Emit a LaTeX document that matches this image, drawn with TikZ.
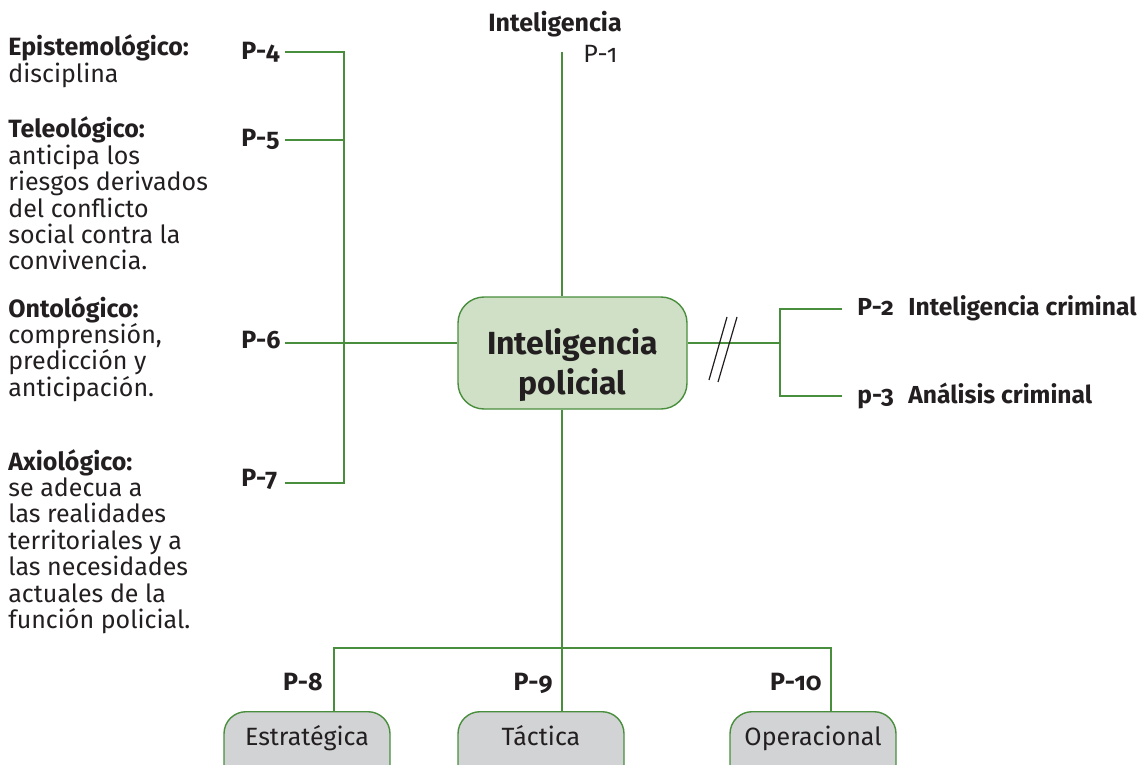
\documentclass[tikz,border=0pt]{standalone}
\usepackage{fontspec}
\setmainfont{Fira Sans}[Numbers=OldStyle]
\usetikzlibrary{positioning}

\definecolor{lgreen}{RGB}{72,142,60}
\definecolor{boxgreen}{RGB}{208,224,199}
\definecolor{boxgrey}{RGB}{210,211,213}
\definecolor{ink}{RGB}{35,31,32}

\begin{document}
\begin{tikzpicture}[x=0.5pt, y=-0.5pt,
    every node/.style={inner sep=0pt, text=ink, font=\fontsize{12.5}{13.2}\selectfont},
    conn/.style={draw=lgreen, line width=0.7pt},
    slash/.style={draw=ink, line width=0.6pt},
    plabel/.style={font=\fontsize{12.5}{13.2}\selectfont\bfseries},
    rlabel/.style={font=\fontsize{12.3}{14}\selectfont\bfseries, anchor=base west},
    note/.style={align=left, anchor=base west},
    hub/.style={draw=lgreen, fill=boxgreen, line width=0.7pt, rounded corners=13pt,
        minimum width=114.5pt, minimum height=56pt},
    hubtext/.style={align=center, font=\fontsize{16}{20}\selectfont\bfseries},
    leaf/.style={draw=lgreen, fill=boxgrey, line width=0.7pt, rounded corners=11pt,
        minimum width=83pt, text height=17pt, text depth=23pt, anchor=north}]

    \useasboundingbox (0,0) rectangle (1143,764);
    \clip (0,0) rectangle (1143,764);

    % left column (base = last line)
    \node[note] (epi) at (8,82.4) {\textbf{Epistemológico:}\\disciplina};
    \node[note] (tele) at (8,270) {\textbf{Teleológico:}\\anticipa los\\riesgos derivados\\del conflicto\\social contra la\\convivencia.};
    \node[note] (onto) at (8,396.2) {\textbf{Ontológico:}\\comprensión,\\predicción y\\anticipación.};
    \node[note] (axio) at (8,628.4) {\textbf{Axiológico:}\\se adecua a\\las realidades\\territoriales y a\\las necesidades\\actuales de la\\función policial.};

    \node[plabel, anchor=base west] (p4) at (241,60) {P-4};
    \node[plabel, anchor=base west] (p5) at (241,147) {P-5};
    \node[plabel, anchor=base west] (p6) at (241,348) {P-6};
    \node[plabel, anchor=base west] (p7) at (241,486) {P-7};

    % centre
    \node[hub] (main) at (572.5,353) {};
    \node[hubtext] (maintext) at ([yshift=-6pt]main.center) {Inteligencia\\policial};
    \node[font=\fontsize{12.5}{13.2}\selectfont\bfseries, anchor=base] (intel) at (555,32) {Inteligencia};
    \node[anchor=base west] (p1) at (583,63) {P-1};

    % right
    \node[rlabel] (p2) at (857,315) {P-2};
    \node[rlabel] (crim) at (908,315) {Inteligencia criminal};
    \node[rlabel] (p3) at (857,403) {p-3};
    \node[rlabel] (anal) at (908,403) {Análisis criminal};

    % bottom
    \node[leaf] (estr) at (307,711) {Estratégica};
    \node[leaf] (tact) at (541,711) {Táctica};
    \node[leaf] (oper) at (813,711) {Operacional};
    \node[plabel, anchor=base east] (p8) at (323,690) {P-8};
    \node[plabel, anchor=base east] (p9) at (553,690) {P-9};
    \node[plabel, anchor=base east] (p10) at (822,690) {P-10};

    \coordinate (top) at (562,52);
    \coordinate (tickL) at (285,0);
    \coordinate (b4) at (344,52);
    \coordinate (b5) at (344,140);
    \coordinate (b6) at (344,343);
    \coordinate (b7) at (344,483);
    \coordinate (rb) at (780,343);
    \coordinate (rb2) at (780,309);
    \coordinate (rb3) at (780,396);
    \coordinate (rEnd) at (842,0);
    \coordinate (busL) at (334,648);
    \coordinate (busR) at (831,648);

    \draw[conn] (tickL |- b4) -- (b4) -- (b7) -- (tickL |- b7);
    \draw[conn] (tickL |- b5) -- (b5);
    \draw[conn] (tickL |- b6) -- (main.west |- b6);

    \draw[conn] (top) -- (top |- main.north);
    \draw[conn] (top |- main.south) -- (tact.north -| top);

    \draw[conn] (main.east |- rb) -- (rb);
    \draw[conn] (rEnd |- rb2) -- (rb2) -- (rb3) -- (rEnd |- rb3);
    \draw[slash] (709,380) -- (727,317);
    \draw[slash] (718,382) -- (737,317);

    \draw[conn] (estr.north -| busL) -- (busL) -- (busR) -- (oper.north -| busR);

\end{tikzpicture}
\end{document}
